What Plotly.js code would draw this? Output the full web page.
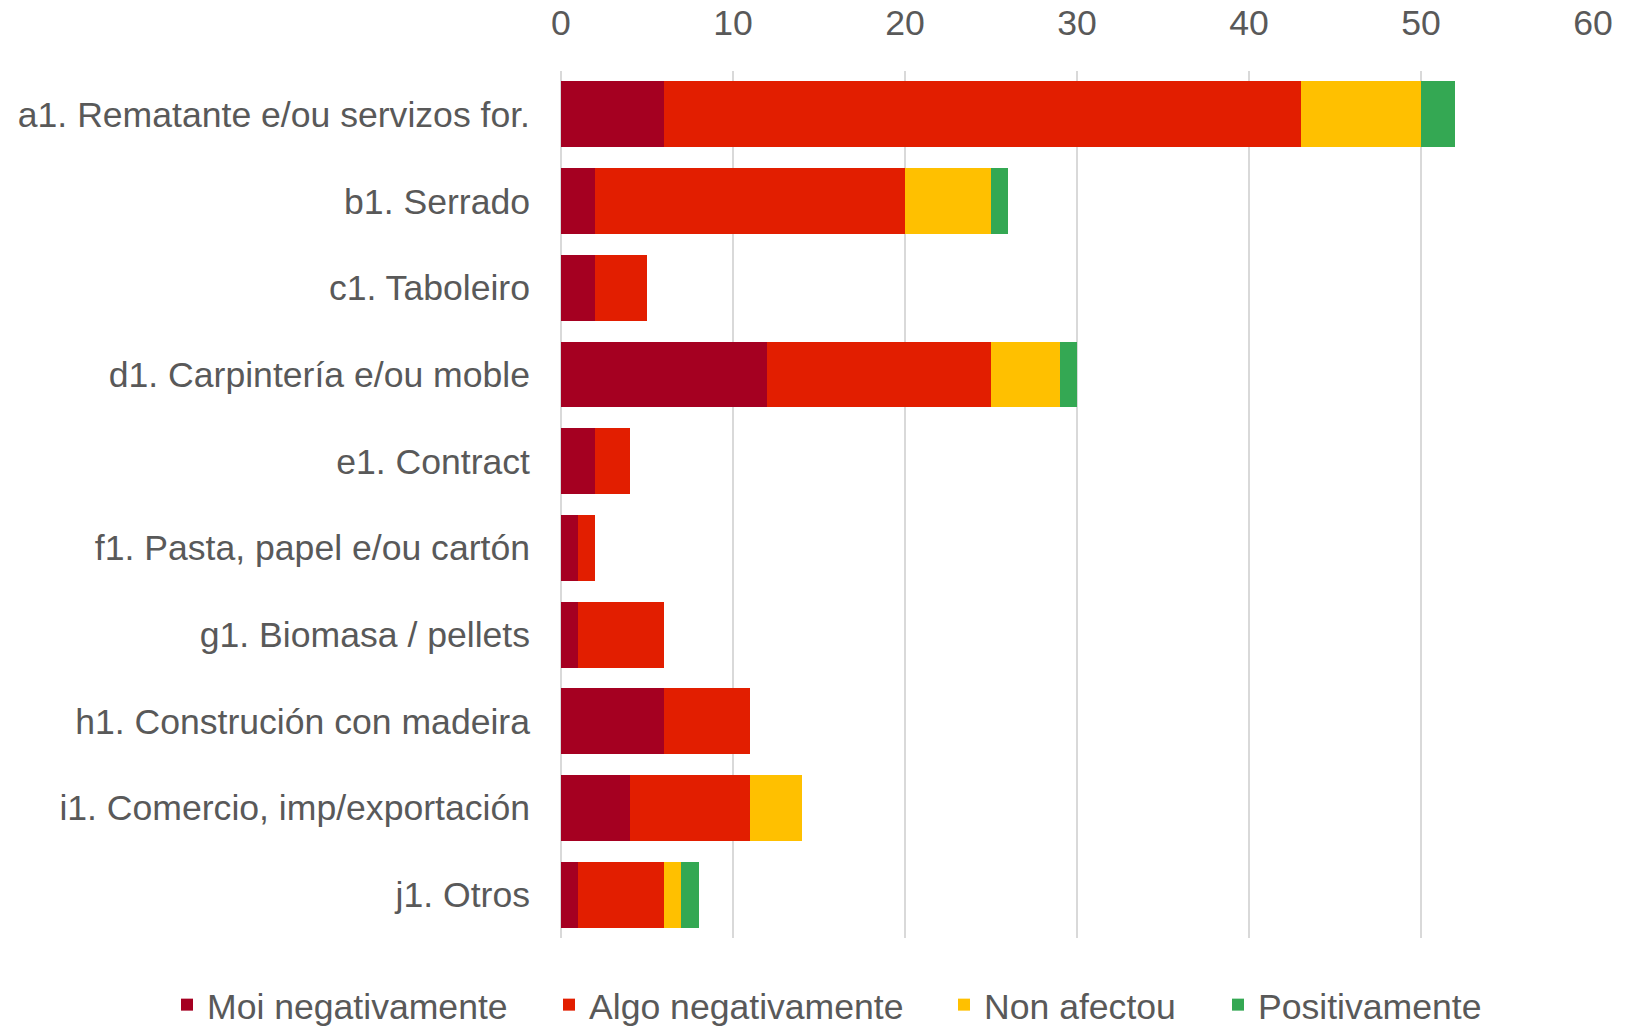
<!DOCTYPE html>
<html>
<head>
<meta charset="utf-8">
<script src="https://cdn.plot.ly/plotly-3.0.1.min.js"></script>
<style>html,body{margin:0;padding:0;background:#fff;}#chart{width:1638px;height:1030px;}</style>
</head>
<body>
<div id="chart"></div>
<script>
const categories = [
  "a1. Rematante e/ou servizos for.",
  "b1. Serrado",
  "c1. Taboleiro",
  "d1. Carpintería e/ou moble",
  "e1. Contract",
  "f1. Pasta, papel e/ou cartón",
  "g1. Biomasa / pellets",
  "h1. Construción con madeira",
  "i1. Comercio, imp/exportación",
  "j1. Otros"
];
const seriesNames = ["Moi negativamente", "Algo negativamente", "Non afectou", "Positivamente"];
const moiNeg   = [6, 2, 2, 12, 2, 1, 1, 6, 4, 1];
const algoNeg  = [37, 18, 3, 13, 2, 1, 5, 5, 7, 5];
const nonAfect = [7, 5, 0, 4, 0, 0, 0, 0, 3, 1];
const positiv  = [2, 1, 0, 1, 0, 0, 0, 0, 0, 1];
const xTicks = [0, 10, 20, 30, 40, 50, 60];

const colors = ["#A50021", "#E21E00", "#FFC000", "#34A853"];
const values = [moiNeg, algoNeg, nonAfect, positiv];
const legendIds = ["legend", "legend2", "legend3", "legend4"];
const legendX = [167, 549, 944, 1218];

const font = {family: "Liberation Sans, Arial, sans-serif", size: 35.6, color: "#595959"};

const traces = values.map((v, i) => ({
  type: "bar",
  orientation: "h",
  name: seriesNames[i],
  y: categories,
  x: v,
  marker: {color: colors[i], line: {width: 0}},
  legend: legendIds[i],
  hoverinfo: "x+name"
}));

const layout = {
  width: 1638,
  height: 1030,
  paper_bgcolor: "#fff",
  plot_bgcolor: "#fff",
  font: font,
  barmode: "stack",
  bargap: 0.24,
  margin: {l: 561, r: 45, t: 71, b: 92, pad: 0},
  xaxis: {
    side: "top",
    range: [0, 60],
    tickvals: xTicks,
    showgrid: true,
    gridcolor: "#D9D9D9",
    gridwidth: 2,
    zeroline: true,
    zerolinecolor: "#D9D9D9",
    zerolinewidth: 2,
    showline: false,
    ticks: "",
    ticklabelstandoff: 28,
    tickfont: font
  },
  yaxis: {
    type: "category",
    autorange: "reversed",
    showgrid: false,
    zeroline: false,
    showline: false,
    ticks: "",
    ticklabelstandoff: 30,
    tickfont: font
  },
  showlegend: true
};
legendIds.forEach((id, i) => {
  layout[id] = {
    orientation: "h",
    xref: "container",
    yref: "container",
    x: legendX[i] / 1638,
    xanchor: "left",
    y: (1030 - 1005) / 1030,
    yanchor: "middle",
    font: font,
    bgcolor: "rgba(0,0,0,0)",
    borderwidth: 0
  };
});

Plotly.newPlot("chart", traces, layout, {displayModeBar: false, staticPlot: true});
</script>
</body>
</html>
